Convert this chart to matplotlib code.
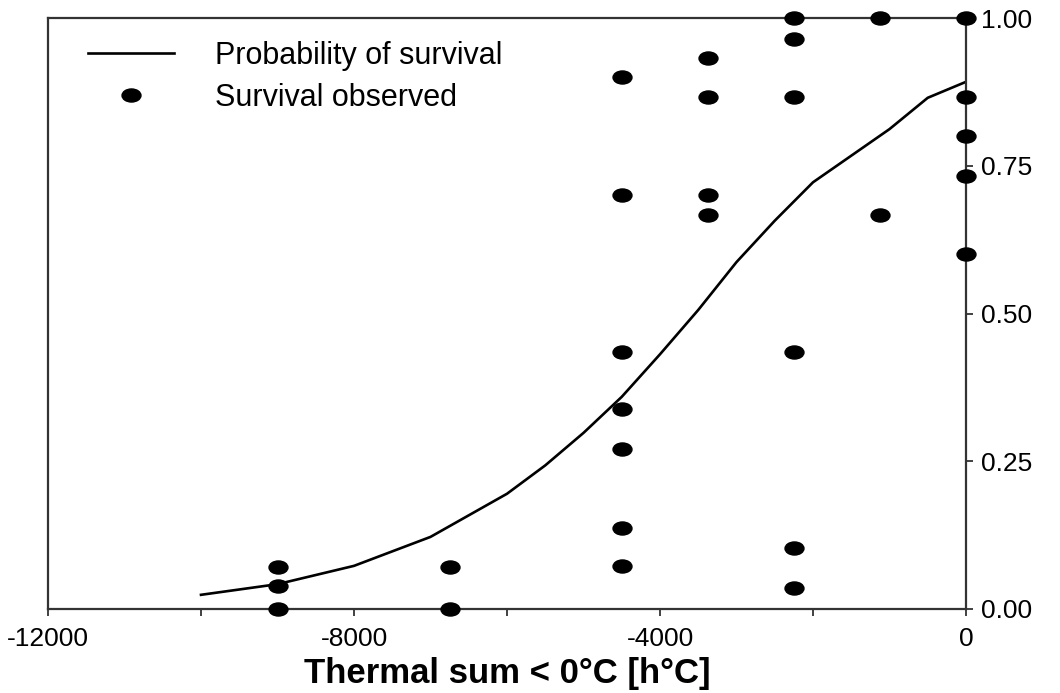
#%% Load modules
import matplotlib
matplotlib.use('Agg')
import matplotlib.pyplot as plt
from matplotlib.markers import MarkerStyle
from matplotlib.transforms import Affine2D

plt.rcParams['font.family'] = ['Liberation Sans', 'DejaVu Sans']
plt.rcParams['axes.unicode_minus'] = False

#%% Data
# fitted curve
curve_x = [-10000, -9000, -8000, -7000, -6000, -5500, -5000, -4500, -4000, -3500,
           -3000, -2500, -2000, -1000, -500, 0]
curve_y = [0.024, 0.042, 0.073, 0.122, 0.195, 0.243, 0.298, 0.359, 0.431, 0.506,
           0.587, 0.657, 0.722, 0.812, 0.865, 0.892]

# observed survival, grouped by thermal sum
obs_x = [-9000, -6750, -4500, -3375, -2250, -1125, 0]
obs_y = [
    [0.071, 0.039, 0.0],
    [0.071, 0.0],
    [0.900, 0.700, 0.435, 0.338, 0.270, 0.137, 0.073],
    [0.932, 0.866, 0.700, 0.667],
    [1.0, 0.964, 0.866, 0.435, 0.103, 0.036],
    [1.0, 0.667],
    [1.0, 0.866, 0.800, 0.733, 0.600],
]

xticks_major = [-12000, -8000, -4000, 0]
xticks_minor = [-10000, -6000, -2000]
yticks = [0.0, 0.25, 0.5, 0.75, 1.0]

#%% Plot
fig = plt.figure(figsize=(10.6, 6.93), dpi=100)
ax = fig.add_axes([48/1060, 1 - 609/693, (966-48)/1060, (609-18)/693])

dot = MarkerStyle('o', transform=Affine2D().scale(1.45, 1.0))

ax.plot(curve_x, curve_y, color='black', lw=1.9, label='Probability of survival')

px, py = [], []
for x, ys in zip(obs_x, obs_y):
    px += [x]*len(ys)
    py += ys
ax.plot(px, py, linestyle='none', marker=dot, markersize=9.4, color='black',
        clip_on=False, zorder=5, label='Survival observed')

ax.set_xlim(-12000, 0)
ax.set_ylim(0, 1)

ax.set_xticks(xticks_major)
ax.set_xticks(xticks_minor, minor=True)
ax.set_yticks(yticks)
ax.set_yticklabels(['{0:.2f}'.format(v) for v in yticks])
ax.yaxis.tick_right()

for s in ax.spines.values():
    s.set_color('#333333')
    s.set_linewidth(1.6)

ax.tick_params(axis='both', which='both', direction='out', length=5, width=1.3,
               color='#333333', labelsize=19)
ax.tick_params(axis='x', pad=8)
ax.tick_params(axis='y', left=False, right=True, pad=6)

ax.set_xlabel('Thermal sum < 0°C [h°C]', fontsize=25, fontweight='bold', labelpad=4)

ax.legend(loc='upper left', bbox_to_anchor=(88/1060, 1 - 41/693), bbox_transform=fig.transFigure,
          frameon=False, fontsize=22, handlelength=2.8, handletextpad=1.35,
          labelspacing=0.38, borderpad=0, borderaxespad=0, markerscale=1.0)

fig.savefig('out.png', dpi=100)
